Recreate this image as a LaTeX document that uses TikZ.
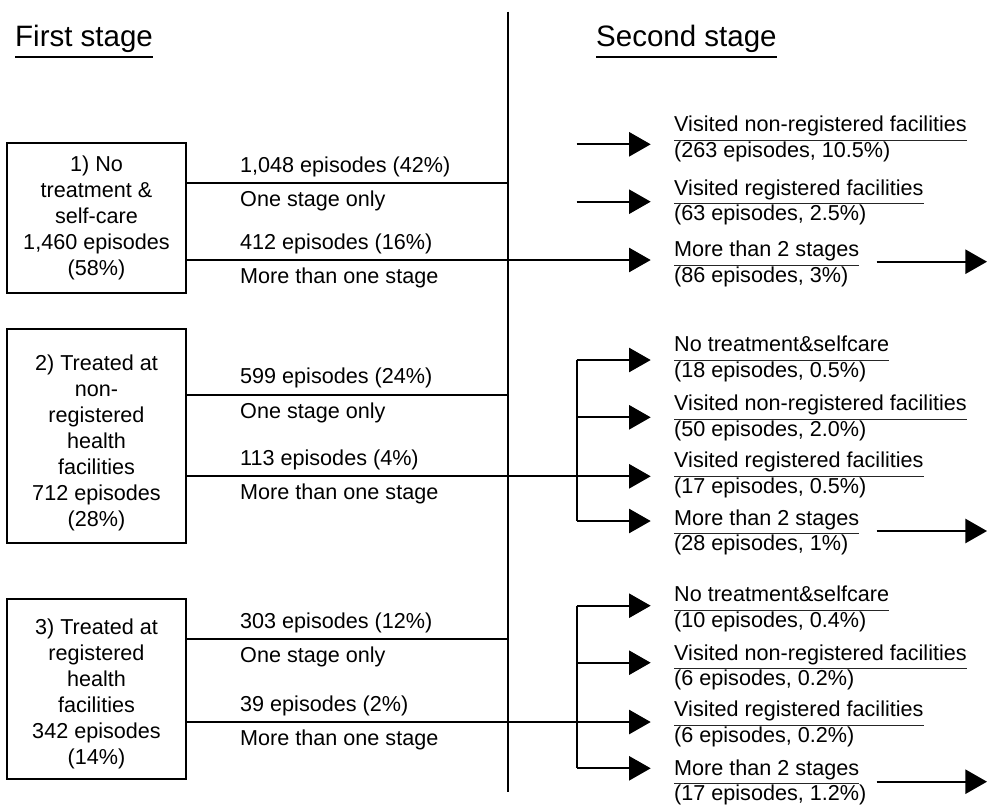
\documentclass[tikz,border=0pt]{standalone}
\usepackage{fontspec}
\setmainfont{Liberation Sans}
\usetikzlibrary{arrows.meta}

\begin{document}
\begin{tikzpicture}[x=1pt, y=-1pt]
\tikzstyle{place}=[rectangle, draw=black, line width=1.8pt, minimum width=179pt, align=center, inner sep=0pt, font=\fontsize{21.6}{26}\selectfont]
\tikzstyle{txt}=[anchor=base west, inner sep=0pt, font=\fontsize{21.6}{26}\selectfont]
\tikzstyle{head}=[anchor=base west, inner sep=0pt, font=\fontsize{29.5}{32}\selectfont]
\tikzstyle{link}=[line width=1.8pt]
\tikzstyle{flow}=[line width=1.8pt, -{Triangle[length=21.7pt, width=24.3pt]}]
\tikzstyle{uline}=[line width=1.3pt, black!85]

\useasboundingbox (0,0) rectangle (987,806);

% Titles
\node at (15, 46) [head] (title_1) {First stage};
\node at (596, 46) [head] (title_2) {Second stage};
\foreach \x in {1,2}
\draw [link] ([yshift=-11.3pt]title_\x.base west) -- ([yshift=-11.3pt]title_\x.base east);

% Divider
\coordinate (top) at (507.7, 11.7);
\coordinate (bottom) at (507.7, 791.7);
\draw [link] (top) -- (bottom);

% First stage
\node at (96.5, 218) [place, minimum height=150pt] (first_1) {1) No\\treatment \&\\self-care\\1,460 episodes\\(58\%)};
\node at (96.5, 435.8) [place, minimum height=213.7pt] (first_2) {\mbox{}\\[4pt]2) Treated at\\non-\\registered\\health\\facilities\\712 episodes\\(28\%)};
\node at (96.5, 689.3) [place, minimum height=180pt] (first_3) {\mbox{}\\[-2pt]3) Treated at\\registered\\health\\facilities\\342 episodes\\(14\%)};

% One stage / more than one stage
\foreach \i/\ya/\yb/\na/\nb in {1/183.3/260/{1,048 episodes (42\%)}/{412 episodes (16\%)},
                                2/394.7/476.3/{599 episodes (24\%)}/{113 episodes (4\%)},
                                3/639.3/722/{303 episodes (12\%)}/{39 episodes (2\%)}}
{
\coordinate (one_\i) at (507.7, \ya);
\coordinate (more_\i) at (507.7, \yb);
\draw [link] (first_\i.east |- one_\i) -- (one_\i);
\node at (240, \ya-11) [txt] (one_\i_n) {\na};
\node at (240, \ya+23.5) [txt] (one_\i_t) {One stage only};
\node at (240, \yb-11) [txt] (more_\i_n) {\nb};
\node at (240, \yb+23.5) [txt] (more_\i_t) {More than one stage};
}

% Second stage
\foreach \g/\r/\ya/\yt/\ta/\tb in {
 1/a/144.3/131.7/{Visited non-registered facilities}/{(263 episodes, 10.5\%)},
 1/b/201.7/195/{Visited registered facilities}/{(63 episodes, 2.5\%)},
 1/c/260/256.7/{More than 2 stages}/{(86 episodes, 3\%)},
 2/a/360/351.7/{No treatment\&selfcare}/{(18 episodes, 0.5\%)},
 2/b/417.3/410.7/{Visited non-registered facilities}/{(50 episodes, 2.0\%)},
 2/c/476.3/467.7/{Visited registered facilities}/{(17 episodes, 0.5\%)},
 2/d/521/525/{More than 2 stages}/{(28 episodes, 1\%)},
 3/a/605.7/601.7/{No treatment\&selfcare}/{(10 episodes, 0.4\%)},
 3/b/662.7/660/{Visited non-registered facilities}/{(6 episodes, 0.2\%)},
 3/c/722/716.7/{Visited registered facilities}/{(6 episodes, 0.2\%)},
 3/d/768.3/775/{More than 2 stages}/{(17 episodes, 1.2\%)}}
{
\coordinate (tip_\g\r) at (650.7, \ya);
\node at (674, \yt) [txt] (second_\g\r) {\ta};
\node at (674, \yt+25.7) [txt] (second_\g\r_n) {\tb};
\draw [uline] ([yshift=-8.5pt]second_\g\r.base west) -- ([yshift=-8.5pt]second_\g\r.base east);
}

% Stage 1 -> stage 2
\coordinate (from_1a) at (576.7, 144.3);
\coordinate (from_1b) at (576.7, 201.7);
\draw [flow] (from_1a) -- (tip_1a);
\draw [flow] (from_1b) -- (tip_1b);
\draw [flow] (first_1.east |- more_1) -- (tip_1c);
\foreach \g in {2,3}
{
\coordinate (fork_\g) at (576.7, 0);
\draw [flow] (first_\g.east |- more_\g) -- (tip_\g c);
\draw [link] (fork_\g |- tip_\g a) -- (fork_\g |- tip_\g d);
\foreach \r in {a,b,d}
\draw [flow] (fork_\g |- tip_\g\r) -- (tip_\g\r);
}

% More than 2 stages
\foreach \g/\y in {1/261.7, 2/531, 3/781.7}
{
\coordinate (on_\g) at (876.7, \y);
\coordinate (next_\g) at (987, \y);
\draw [flow] (on_\g) -- (next_\g);
}
\end{tikzpicture}
\end{document}
